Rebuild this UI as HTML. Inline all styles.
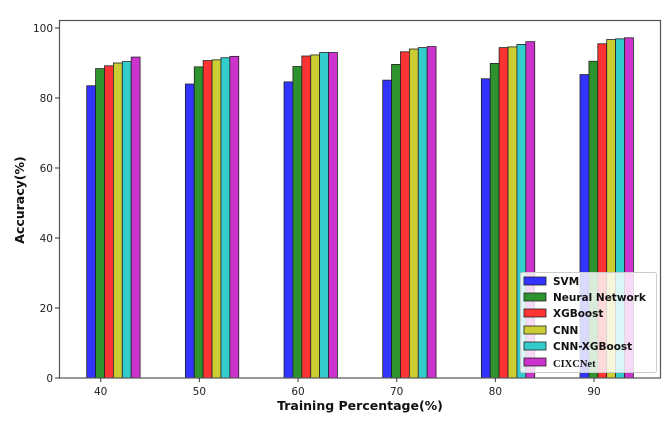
<!DOCTYPE html>
<html><head><meta charset="utf-8"><style>
html,body{margin:0;padding:0;background:#fff;}
svg{display:block;}
text{font-family:"DejaVu Sans","Liberation Sans",sans-serif;}
</style></head><body>
<svg width="672" height="424" viewBox="0 0 672 424">
<g id="bars" stroke="#222" stroke-width="0.8"></g>
<rect x="59.5" y="20.5" width="601" height="357.5" fill="none" stroke="#555" stroke-width="1.2"/>
<g font-size="10.5" fill="#222" text-anchor="end">
<text x="53" y="382">0</text><line x1="55" x2="59.5" y1="378" y2="378" stroke="#333"/>
<text x="53" y="312">20</text><line x1="55" x2="59.5" y1="308" y2="308" stroke="#333"/>
<text x="53" y="242">40</text><line x1="55" x2="59.5" y1="238" y2="238" stroke="#333"/>
<text x="53" y="172">60</text><line x1="55" x2="59.5" y1="168" y2="168" stroke="#333"/>
<text x="53" y="102">80</text><line x1="55" x2="59.5" y1="98" y2="98" stroke="#333"/>
<text x="53" y="32">100</text><line x1="55" x2="59.5" y1="28" y2="28" stroke="#333"/>
</g>
<g font-size="10.5" fill="#222" text-anchor="middle" id="xt"></g>
<text x="360" y="410" font-size="12.5" font-weight="bold" text-anchor="middle" fill="#111">Training Percentage(%)</text>
<text transform="translate(24,200) rotate(-90)" font-size="12.5" font-weight="bold" text-anchor="middle" fill="#111">Accuracy(%)</text>
<g>
<rect x="520.5" y="272.5" width="136" height="100" rx="2" fill="#fff" fill-opacity="0.82" stroke="#ccc"/>
<g stroke="#222" stroke-width="0.8">
<rect x="524" y="277" width="22" height="8" fill="#3333ff"/>
<rect x="524" y="293" width="22" height="8" fill="#2e932e"/>
<rect x="524" y="309" width="22" height="8" fill="#ff3333"/>
<rect x="524" y="326" width="22" height="8" fill="#cccc33"/>
<rect x="524" y="342" width="22" height="8" fill="#33cccc"/>
<rect x="524" y="358" width="22" height="8" fill="#cc33cc"/>
</g>
<g font-size="10.5" font-weight="bold" fill="#111">
<text x="553" y="285">SVM</text>
<text x="553" y="301">Neural Network</text>
<text x="553" y="317">XGBoost</text>
<text x="553" y="334">CNN</text>
<text x="553" y="350">CNN-XGBoost</text>
<text x="553" y="367" style="font-family:'Liberation Serif',serif;font-size:10.5px;">CIXCNet</text>
</g>
</g>
</svg>
<script>
var d=[[83.5,88.4,89.2,90,90.4,91.7],[84,88.9,90.7,90.9,91.5,91.9],[84.6,89,92,92.3,93,93],[85.1,89.6,93.2,94,94.4,94.7],[85.5,89.9,94.4,94.6,95.3,96.1],[86.7,90.5,95.5,96.7,96.9,97.2]];
var c=["#3333ff","#2e932e","#ff3333","#cccc33","#33cccc","#cc33cc"];
var g=document.getElementById('bars'),xt=document.getElementById('xt'),s="";
for(var i=0;i<6;i++){var x0=86.7+98.66*i;
for(var j=0;j<6;j++){var v=d[i][j],y=378-v*3.5;
s+='<rect x="'+(x0+j*8.9)+'" y="'+y+'" width="8.9" height="'+(378-y)+'" fill="'+c[j]+'"/>';}
xt.innerHTML+='<text x="'+(x0+14)+'" y="395">'+(40+10*i)+'</text><line x1="'+(x0+14)+'" x2="'+(x0+14)+'" y1="378" y2="382" stroke="#333"/>';}
g.innerHTML=s;
</script>
</body></html>
